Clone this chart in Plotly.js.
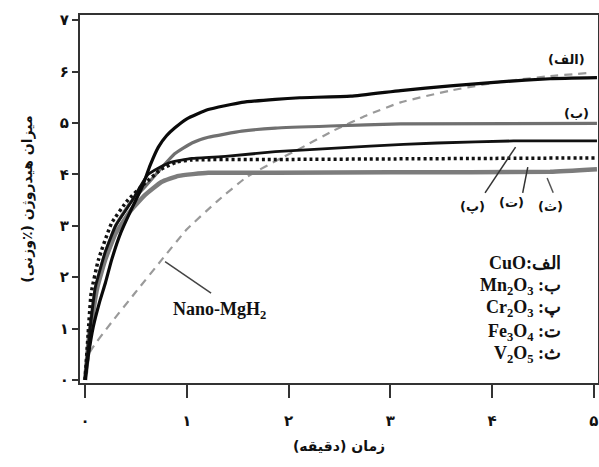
<!DOCTYPE html>
<html>
<head>
<meta charset="utf-8">
<script src="https://cdn.plot.ly/plotly-3.0.1.min.js"></script>
<style>html,body{margin:0;padding:0;background:#fff;}#chart{width:599px;height:467px;}</style>
</head>
<body>
<div id="chart"></div>
<script>
// Data (time in minutes, hydrogen wt%)
const alefX = [0, 0.03, 0.08, 0.14, 0.2, 0.26, 0.35, 0.45, 0.56, 0.64, 0.72, 0.8, 0.88, 1.0, 1.21, 1.54, 1.87, 2.11, 2.61, 3.1, 3.59, 4.08, 4.57, 5.03];
const alefY = [0, 0.45, 1.03, 1.5, 1.89, 2.33, 2.86, 3.3, 3.75, 4.18, 4.53, 4.75, 4.9, 5.08, 5.26, 5.4, 5.46, 5.49, 5.52, 5.63, 5.72, 5.8, 5.86, 5.88];

const beX = [0, 0.03, 0.1, 0.19, 0.3, 0.44, 0.59, 0.74, 0.88, 1.05, 1.21, 1.54, 1.87, 2.41, 3.1, 5.03];
const beY = [0, 0.78, 1.75, 2.43, 3.0, 3.44, 3.76, 4.1, 4.4, 4.61, 4.72, 4.84, 4.9, 4.94, 4.98, 4.99];

const peX = [0, 0.05, 0.1, 0.2, 0.3, 0.45, 0.62, 0.82, 1.05, 1.38, 1.87, 2.8, 3.46, 4.21, 5.03];
const peY = [0, 1.0, 1.8, 2.5, 3.0, 3.45, 4.0, 4.22, 4.31, 4.35, 4.44, 4.55, 4.61, 4.65, 4.65];

const teX = [0, 0.03, 0.06, 0.13, 0.26, 0.42, 0.59, 0.75, 0.9, 1.05, 2.0, 3.0, 4.0, 5.03];
const teY = [0, 0.9, 1.69, 2.33, 3.05, 3.5, 3.83, 4.1, 4.24, 4.28, 4.29, 4.3, 4.31, 4.32];

const seX = [0, 0.05, 0.12, 0.2, 0.3, 0.45, 0.59, 0.75, 0.92, 1.21, 1.87, 3.0, 4.57, 5.03];
const seY = [0, 0.9, 1.8, 2.35, 2.85, 3.3, 3.6, 3.85, 3.97, 4.03, 4.03, 4.04, 4.05, 4.1];

const nanoX = [0, 0.05, 0.26, 0.49, 0.75, 1.0, 1.3, 1.59, 1.95, 2.11, 2.44, 2.77, 3.1, 3.59, 4.08, 4.57, 4.94];
const nanoY = [0, 0.55, 1.12, 1.69, 2.33, 2.93, 3.48, 3.95, 4.34, 4.5, 4.85, 5.15, 5.4, 5.63, 5.8, 5.91, 5.97];

const tickVals = [0, 1, 2, 3, 4, 5, 6, 7];
const tickText = ['۰', '۱', '۲', '۳', '۴', '۵', '۶', '۷'];

const legendLines = ['CuO:الف', 'Mn<sub>2</sub>O<sub>3</sub> :ب', 'Cr<sub>2</sub>O<sub>3</sub> :پ', 'Fe<sub>3</sub>O<sub>4</sub> :ت', 'V<sub>2</sub>O<sub>5</sub> :ث'];
const legendY = [2.27, 1.81, 1.38, 0.93, 0.49];

const RLM = '\u200F';
const persianFont = 'DejaVu Sans, Noto Sans, sans-serif';
const serifFont = 'Liberation Serif, Times New Roman, serif';

function line(x, y, color, width, dash) {
  return {x: x, y: y, type: 'scatter', mode: 'lines', hoverinfo: 'skip',
    line: {color: color, width: width, dash: dash || 'solid', shape: 'spline', smoothing: 0.4}};
}

const traces = [
  line(nanoX, nanoY, '#9a9a9a', 2.2, '8px,6px'),
  line(seX, seY, '#7c7c7c', 4.5),
  line(beX, beY, '#707070', 3.2),
  line(peX, peY, '#111', 2.8),
  line(teX, teY, '#111', 3.5, '3px,3px'),
  line(alefX, alefY, '#0a0a0a', 3.2)
];

const annotations = [
  {x: 4.73, y: 6.24, text: '(الف)'},
  {x: 4.83, y: 5.19, text: '(ب)'},
  {x: 3.81, y: 3.37, text: '(پ)'},
  {x: 4.19, y: 3.46, text: '(ت)'},
  {x: 4.57, y: 3.37, text: '(ث)'}
].map(a => Object.assign(a, {xref: 'x', yref: 'y', showarrow: false,
  font: {family: persianFont, size: 13, color: '#111', weight: 'bold'}}));

annotations.push({x: 1.32, y: 1.36, xref: 'x', yref: 'y', showarrow: false,
  text: 'Nano-MgH<sub>2</sub>', font: {family: serifFont, size: 18, color: '#111', weight: 'bold'}});

legendLines.forEach((t, i) => annotations.push({x: 4.70, y: legendY[i], xref: 'x', yref: 'y',
  xanchor: 'right', showarrow: false, text: t,
  font: {family: serifFont, size: 18, color: '#111', weight: 'bold'}}));

const pointer = (x0, y0, x1, y1, c) => ({type: 'line', xref: 'x', yref: 'y', x0: x0, y0: y0, x1: x1, y1: y1,
  line: {color: c || '#333', width: 1.5}});

const shapes = [
  pointer(0.786, 2.30, 1.238, 1.69, '#444'),
  pointer(3.93, 3.64, 4.23, 4.53),
  pointer(4.30, 3.64, 4.35, 4.14),
  pointer(4.60, 3.64, 4.54, 3.93, '#555')
];

const layout = {
  width: 599, height: 467,
  margin: {l: 80, r: 1, t: 15, b: 84},
  paper_bgcolor: '#fff', plot_bgcolor: '#fff',
  showlegend: false,
  xaxis: {
    range: [-0.05, 5.04], tickvals: [0, 1, 2, 3, 4, 5], ticktext: tickText.slice(0, 6),
    ticks: 'outside', ticklen: 13, tickwidth: 2, tickcolor: '#333',
    showline: true, linecolor: '#333', linewidth: 2, mirror: true,
    showgrid: false, zeroline: false, ticklabelstandoff: 10,
    tickfont: {family: persianFont, size: 15, color: '#111', weight: 'bold'},
    title: {text: 'زمان (دقیقه)' + RLM, standoff: 12, font: {family: persianFont, size: 14, color: '#111', weight: 'bold'}}
  },
  yaxis: {
    range: [-0.06, 7.1], tickvals: tickVals, ticktext: tickText,
    ticks: 'outside', ticklen: 6, tickwidth: 2, tickcolor: '#333',
    showline: true, linecolor: '#333', linewidth: 2, mirror: true,
    showgrid: false, zeroline: false,
    tickfont: {family: persianFont, size: 15, color: '#111', weight: 'bold'},
    title: {text: 'میزان هیدروژن (٪وزنی)' + RLM, standoff: 24, font: {family: persianFont, size: 14, color: '#111', weight: 'bold'}}
  },
  annotations: annotations,
  shapes: shapes
};

Plotly.newPlot('chart', traces, layout, {staticPlot: true, displayModeBar: false});
</script>
</body>
</html>
